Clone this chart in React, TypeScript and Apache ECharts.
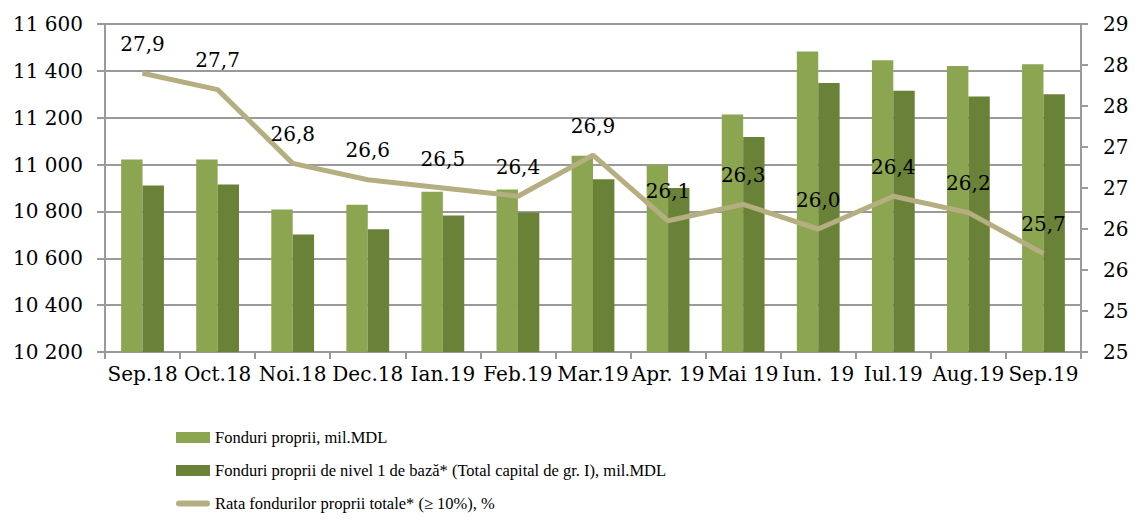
import React, { useEffect, useRef } from "react";
import * as echarts from "echarts";

const categories = ["Sep.18", "Oct.18", "Noi.18", "Dec.18", "Ian.19", "Feb.19", "Mar.19", "Apr. 19", "Mai 19", "Iun. 19", "Iul.19", "Aug.19", "Sep.19"];
const ownFunds = [11022, 11022, 10808, 10828, 10884, 10894, 11038, 10999, 11214, 11483, 11445, 11421, 11428];
const tier1Funds = [10911, 10915, 10702, 10724, 10783, 10795, 10937, 10900, 11118, 11348, 11315, 11291, 11300];
const ratio = [27.9, 27.7, 26.8, 26.6, 26.5, 26.4, 26.9, 26.1, 26.3, 26.0, 26.4, 26.2, 25.7];
const seriesNames = [
  "Fonduri proprii, mil.MDL",
  "Fonduri proprii de nivel 1 de bază* (Total capital de gr. I), mil.MDL",
  "Rata fondurilor proprii totale* (≥ 10%), %",
];

const axisFont = "'DejaVu Serif', serif";
const gray = "#9a9a9a";
const lineIcon = "path://M3,0 H31 A3,3 0 0 1 31,6 H3 A3,3 0 0 1 3,0 Z";

export default function App() {
  const ref = useRef<HTMLDivElement>(null);
  useEffect(() => {
    document.body.style.margin = "0";
    const chart = echarts.init(ref.current!, undefined, { renderer: "svg" });
    chart.setOption({
      animation: false,
      grid: { left: 105, right: 57, top: 24, bottom: 168, containLabel: false },
      legend: {
        orient: "vertical",
        left: 171,
        top: 424,
        itemWidth: 34,
        itemHeight: 11,
        itemGap: 16,
        symbolKeepAspect: true,
        textStyle: { fontFamily: "'Liberation Serif', serif", fontSize: 16.5, color: "#000" },
        data: [
          { name: seriesNames[0], icon: "rect" },
          { name: seriesNames[1], icon: "rect" },
          { name: seriesNames[2], icon: lineIcon, itemStyle: { color: "#b4ae80" } },
        ],
      },
      xAxis: {
        type: "category",
        data: categories,
        axisLine: { lineStyle: { color: gray, width: 2 } },
        axisTick: { show: true, length: 7, lineStyle: { color: gray, width: 2 } },
        axisLabel: { interval: 0, margin: 12, color: "#000", fontFamily: axisFont, fontSize: 20 },
      },
      yAxis: [
        {
          type: "value",
          min: 10200,
          max: 11600,
          interval: 200,
          axisLine: { show: true, lineStyle: { color: gray, width: 2 } },
          axisTick: { show: true, length: 8, lineStyle: { color: gray, width: 2 } },
          splitLine: { lineStyle: { color: gray, width: 2 } },
          axisLabel: {
            margin: 22,
            color: "#000",
            fontFamily: axisFont,
            fontSize: 20,
            formatter: (v: number) => String(v).replace(/\B(?=(\d{3})+(?!\d))/g, " "),
          },
        },
        {
          type: "value",
          min: 24.5,
          max: 28.5,
          interval: 0.5,
          position: "right",
          axisLine: { show: true, lineStyle: { color: gray, width: 2 } },
          axisTick: { show: true, length: 7, lineStyle: { color: gray, width: 2 } },
          splitLine: { show: false },
          axisLabel: {
            margin: 22,
            color: "#000",
            fontFamily: axisFont,
            fontSize: 20,
            formatter: (v: number) => String(Math.round(v)),
          },
        },
      ],
      series: [
        {
          name: seriesNames[0],
          type: "bar",
          data: ownFunds,
          barGap: "0%",
          barCategoryGap: "43%",
          itemStyle: { color: "#8ba550" },
        },
        {
          name: seriesNames[1],
          type: "bar",
          data: tier1Funds,
          itemStyle: { color: "#6a8237" },
        },
        {
          name: seriesNames[2],
          type: "line",
          yAxisIndex: 1,
          data: ratio,
          symbol: "circle",
          symbolSize: 1,
          itemStyle: { color: "#b4ae80" },
          lineStyle: { color: "#b4ae80", width: 5 },
          label: {
            show: true,
            position: "top",
            distance: 19,
            color: "#000",
            fontFamily: axisFont,
            fontSize: 20,
            formatter: (p: any) => Number(p.value).toFixed(1).replace(".", ","),
          },
        },
      ],
    });
    return () => chart.dispose();
  }, []);
  return <div ref={ref} style={{ width: 1138, height: 520 }} />;
}
